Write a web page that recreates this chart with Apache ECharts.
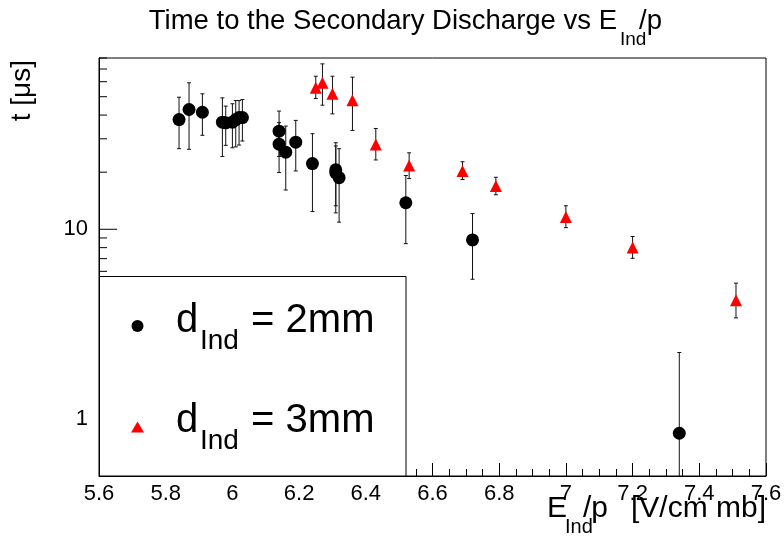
<!DOCTYPE html>
<html><head><meta charset="utf-8">
<script src="https://cdn.jsdelivr.net/npm/echarts@6/dist/echarts.min.js"></script>
<style>html,body{margin:0;padding:0;background:#fff}#c{width:784px;height:537px}</style>
</head><body><div id="c"></div>
<script>
// ---------- data ----------
const x2   = [5.84, 5.87, 5.91, 5.97, 5.98, 6.00, 6.01, 6.02, 6.03, 6.14, 6.14, 6.16, 6.19, 6.24, 6.31, 6.31, 6.32, 6.52, 6.72, 7.34];
const y2   = [37.9, 42.8, 41.4, 36.7, 36.4, 36.7, 37.9, 38.8, 38.8, 32.9, 28.1, 25.5, 28.8, 22.2, 20.6, 19.8, 18.7, 13.8, 8.79, 0.84];
const y2Lo = [26.6, 26.4, 31.3, 24.2, 27.7, 26.9, 27.2, 27.8, 29.2, 24.2, 19.9, 16.1, 20.3, 12.4, 12.2, 13.3, 10.9, 8.4, 5.45, 0.45];
const y2Hi = [49.7, 59.2, 51.8, 49.3, 44.6, 45.9, 47.7, 47.7, 48.3, 42.0, 36.5, 35.0, 37.5, 31.9, 28.6, 27.5, 26.6, 19.2, 12.1, 2.24];

const x3   = [6.25, 6.27, 6.30, 6.36, 6.43, 6.53, 6.69, 6.79, 7.00, 7.20, 7.51];
const y3   = [55.7, 59.2, 51.8, 47.9, 28.0, 21.7, 20.3, 16.9, 11.6, 8.01, 4.23];
const y3Lo = [48.9, 45.1, 40.6, 33.2, 23.2, 18.5, 18.3, 15.2, 10.2, 7.03, 3.41];
const y3Hi = [64.1, 74.5, 64.1, 63.4, 34.0, 25.3, 22.7, 18.8, 13.3, 9.16, 5.20];

const xMin = 5.6, xMax = 7.6, xStep = 0.2;
const yMin = 0.5, yMax = 80;
const yMajorTicks = [1, 10];
const yMinorTicks = [0.6, 0.7, 0.8, 0.9, 2, 3, 4, 5, 6, 7, 8, 9, 20, 30, 40, 50, 60, 70, 80];

const titleMain = 'Time to the Secondary Discharge vs E';
const titleSub = 'Ind';
const titleEnd = '/p';
const xTitleMain = 'E';
const xTitleSub = 'Ind';
const xTitleMid = '/p';
const xTitleEnd = '[V/cm mb]';
const yTitle = 't [\u03bcs]';
const legendNames = ['d', 'd'];
const legendSubs = ['Ind', 'Ind'];
const legendEnds = [' = 2mm', ' = 3mm'];

// ---------- chart ----------
const FONT = '"Liberation Sans", Arial, Helvetica, sans-serif';
const chart = echarts.init(document.getElementById('c'), null, {renderer: 'canvas'});

const err2 = x2.map((x, i) => [x, y2[i], y2Lo[i], y2Hi[i]]);
const err3 = x3.map((x, i) => [x, y3[i], y3Lo[i], y3Hi[i]]);
const tickData = yMajorTicks.map(v => [xMin, v, 1]).concat(yMinorTicks.map(v => [xMin, v, 0]));

function renderErr(params, api) {
  const x = api.value(0);
  const pHi = api.coord([x, api.value(3)]);
  const pLo = api.coord([x, api.value(2)]);
  const st = {stroke: '#111', lineWidth: 1};
  return {type: 'group', children: [
    {type: 'line', shape: {x1: pHi[0], y1: pHi[1], x2: pLo[0], y2: pLo[1]}, style: st},
    {type: 'line', shape: {x1: pHi[0] - 2, y1: pHi[1], x2: pHi[0] + 2, y2: pHi[1]}, style: st},
    {type: 'line', shape: {x1: pLo[0] - 2, y1: pLo[1], x2: pLo[0] + 2, y2: pLo[1]}, style: st}
  ]};
}
function renderTick(params, api) {
  const p = api.coord([api.value(0), api.value(1)]);
  const len = api.value(2) ? 18 : 8;
  return {type: 'line', shape: {x1: p[0], y1: p[1], x2: p[0] + len, y2: p[1]}, style: {stroke: '#000', lineWidth: 1}};
}

// text placed by its alphabetic baseline (approximated from middle alignment)
function txt(text, x, baseline, size, align, extra) {
  return Object.assign({
    type: 'text', z: 120, x: x, y: baseline - 0.3465 * size,
    style: {text: text, x: 0, y: 0, font: size + 'px ' + FONT, fill: '#000',
            textAlign: align, align: align, textVerticalAlign: 'middle', verticalAlign: 'middle'}
  }, extra || {});
}

const option = {
  backgroundColor: '#fff',
  animation: false,
  grid: {left: 99, right: 18, top: 58, bottom: 61, show: true, borderColor: '#000', borderWidth: 1,
         backgroundColor: 'transparent', containLabel: false, outerBoundsMode: 'none'},
  xAxis: {
    type: 'value', min: xMin, max: xMax, interval: xStep,
    axisLine: {show: true, onZero: false, lineStyle: {color: '#000', width: 1}},
    axisTick: {show: true, inside: true, length: 13, lineStyle: {color: '#000', width: 1}},
    minorTick: {show: true, splitNumber: 4, length: 7, lineStyle: {color: '#000', width: 1}},
    splitLine: {show: false}, minorSplitLine: {show: false},
    axisLabel: {show: true, color: '#000', fontSize: 22, fontFamily: FONT, margin: 7,
                showMinLabel: true, showMaxLabel: true, hideOverlap: false,
                formatter: v => String(+(+v).toFixed(1))}
  },
  yAxis: {
    type: 'log', logBase: 10, min: yMin, max: yMax,
    axisLine: {show: true, onZero: false, lineStyle: {color: '#000', width: 1}},
    axisTick: {show: false}, minorTick: {show: false},
    splitLine: {show: false}, minorSplitLine: {show: false},
    axisLabel: {show: true, color: '#000', fontSize: 22, fontFamily: FONT, margin: 11, hideOverlap: false,
                showMinLabel: true, showMaxLabel: true,
                formatter: v => {
                  for (const t of yMajorTicks) { if (Math.abs(v - t) < 1e-6 * t) return String(t); }
                  return '';
                }}
  },
  series: [
    {type: 'custom', name: 'yticks', data: tickData, renderItem: renderTick, silent: true, z: 1, clip: false},
    {type: 'custom', name: 'err2', data: err2, renderItem: renderErr, silent: true, z: 2, clip: true},
    {type: 'custom', name: 'err3', data: err3, renderItem: renderErr, silent: true, z: 2, clip: true},
    {type: 'scatter', name: 'd_Ind = 2mm', data: x2.map((x, i) => [x, y2[i]]), symbol: 'circle', symbolSize: 13,
     itemStyle: {color: '#000', opacity: 1}, z: 3},
    {type: 'scatter', name: 'd_Ind = 3mm', data: x3.map((x, i) => [x, y3[i]]), symbol: 'triangle', symbolSize: 12,
     itemStyle: {color: '#ff0000', opacity: 1}, z: 3}
  ],
  graphic: [
    // title
    txt(titleMain, 617, 31, 27.5, 'right'),
    txt(titleSub, 620, 46.5, 19, 'left'),
    txt(titleEnd, 639, 31, 27.5, 'left'),
    // x title
    txt(xTitleMain, 547, 519, 30, 'left'),
    txt(xTitleSub, 565, 534, 20, 'left'),
    txt(xTitleMid, 583, 519, 30, 'left'),
    txt(xTitleEnd, 766, 519, 30, 'right'),
    // y title (rotated, reading bottom to top, ending at the top)
    {type: 'text', z: 120, x: 36, y: 60, rotation: Math.PI / 2,
     style: {text: yTitle, x: 0, y: 0, font: '28px ' + FONT, fill: '#000',
             textAlign: 'right', align: 'right', textVerticalAlign: 'bottom', verticalAlign: 'bottom'}},
    // legend box
    {type: 'rect', z: 110, shape: {x: 99.5, y: 276.5, width: 306.5, height: 199.5},
     style: {fill: '#fff', stroke: '#000', lineWidth: 1}},
    {type: 'circle', z: 120, shape: {cx: 137.5, cy: 326, r: 6}, style: {fill: '#000'}},
    {type: 'polygon', z: 120, shape: {points: [[137.5, 421.5], [144, 432.5], [131, 432.5]]}, style: {fill: '#ff0000'}},
    txt(legendNames[0], 176, 335, 40, 'left'),
    txt(legendSubs[0], 200, 351, 28, 'left'),
    txt(legendEnds[0], 240, 335, 40, 'left'),
    txt(legendNames[1], 176, 435, 40, 'left'),
    txt(legendSubs[1], 200, 451, 28, 'left'),
    txt(legendEnds[1], 240, 435, 40, 'left')
  ]
};
chart.setOption(option);
</script>
</body></html>
